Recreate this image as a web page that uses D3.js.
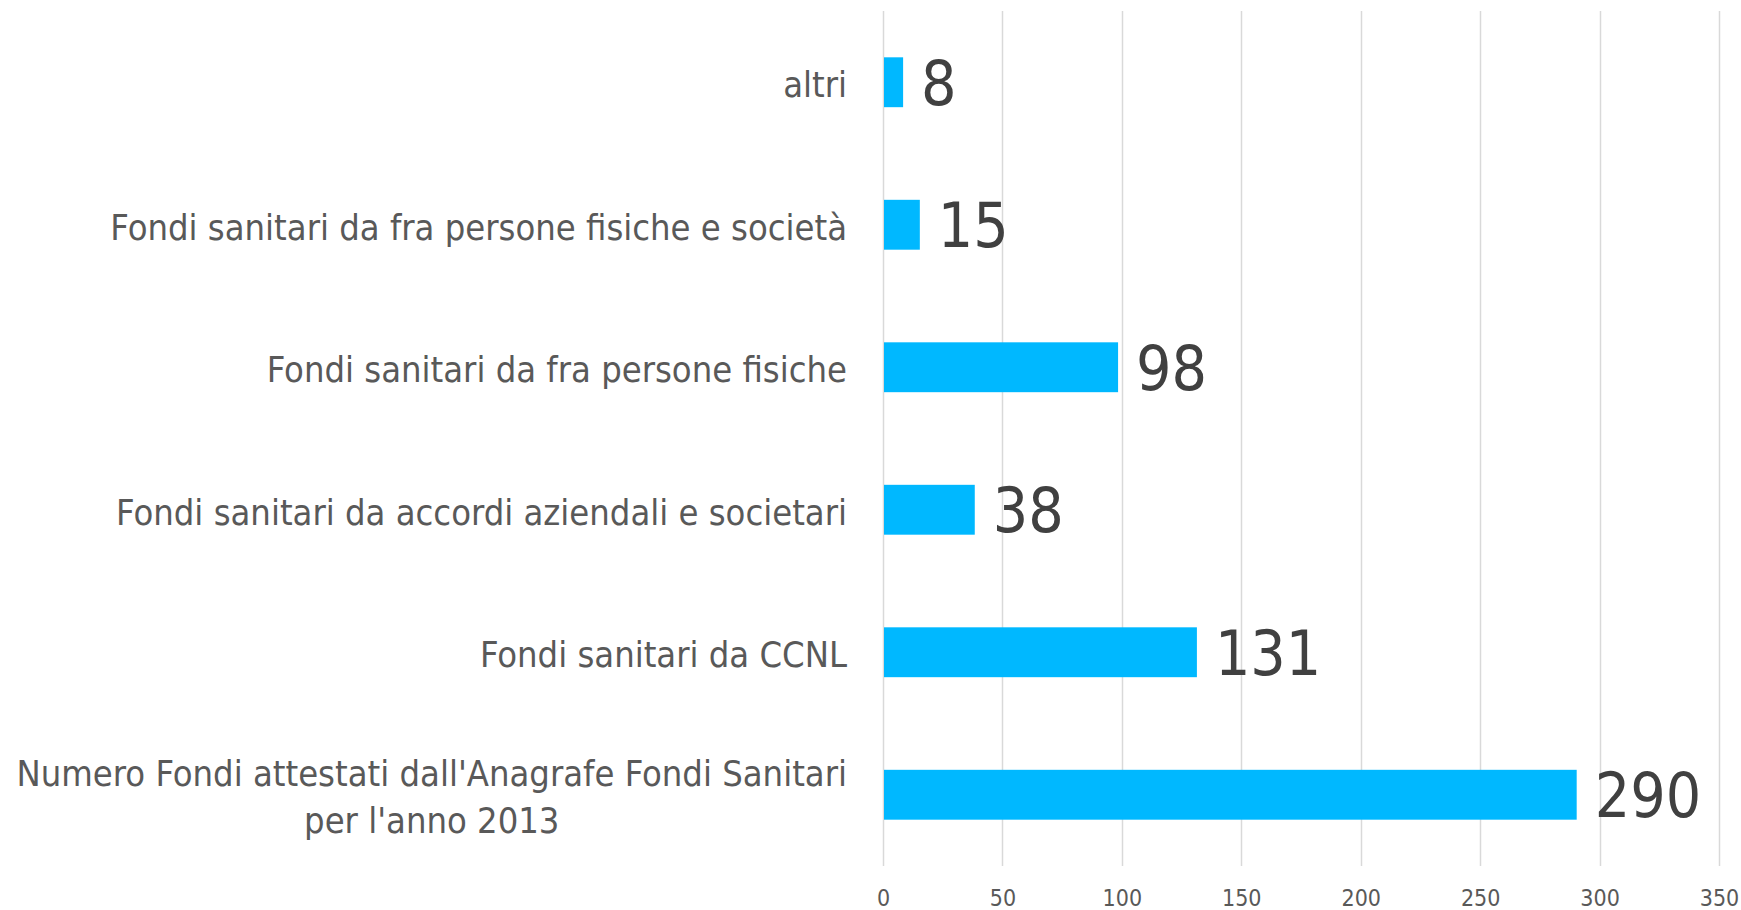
<!DOCTYPE html>
<html>
<head>
<meta charset="utf-8">
<script src="https://cdn.jsdelivr.net/npm/d3@7"></script>
<style>
  body { margin: 0; background: #fff; }
  svg { display: block; font-family: "DejaVu Sans Condensed", "DejaVu Sans", sans-serif; }
</style>
</head>
<body>
<svg width="1741" height="910"></svg>
<script>
var svg = d3.select("svg"),
	width = +svg.attr("width"),
	height = +svg.attr("height");

// chart data, top to bottom as in the picture
var categories = [
	"altri",
	"Fondi sanitari da fra persone fisiche e società",
	"Fondi sanitari da fra persone fisiche",
	"Fondi sanitari da accordi aziendali e societari",
	"Fondi sanitari da CCNL",
	"Numero Fondi attestati dall'Anagrafe Fondi Sanitari\nper l'anno 2013"
];
var values = [8, 15, 98, 38, 131, 290];
var tickValues = [0, 50, 100, 150, 200, 250, 300, 350];

var margin = { top: 11, left: 883, right: 22, bottom: 44 };

//scales
var x = d3.scaleLinear()
	.domain([0, 350])
	.range([margin.left, width - margin.right]);

var y = d3.scaleBand()
	.domain(categories)
	.range([margin.top, height - margin.bottom])
	.paddingInner(0.65)
	.paddingOuter(0.325);

//vertical gridlines
svg.append("g")
	.attr("class", "grid")
	.selectAll("line")
	.data(tickValues)
	.enter().append("line")
	.attr("x1", function (d) { return Math.round(x(d)) + 0.5; })
	.attr("x2", function (d) { return Math.round(x(d)) + 0.5; })
	.attr("y1", margin.top)
	.attr("y2", height - margin.bottom)
	.style("stroke", "#d9d9d9")
	.style("stroke-width", 1.5);

//x axis labels
var xAxis = svg.append("g")
	.attr("transform", "translate(0," + (height - margin.bottom) + ")")
	.call(d3.axisBottom(x).tickValues(tickValues).tickSize(0).tickPadding(24));
xAxis.select(".domain").remove();
xAxis.selectAll("text")
	.style("font-family", "\"DejaVu Sans Condensed\", \"DejaVu Sans\", sans-serif")
	.style("font-size", "23px")
	.style("fill", "#595959");

//bars
svg.append("g")
	.selectAll("rect")
	.data(values)
	.enter().append("rect")
	.attr("x", x(0) + 1)
	.attr("y", function (d, i) { return y(categories[i]); })
	.attr("width", function (d) { return x(d) - x(0); })
	.attr("height", y.bandwidth())
	.style("fill", "#00b8ff");

//value labels
svg.append("g")
	.selectAll("text")
	.data(values)
	.enter().append("text")
	.attr("x", function (d) { return x(d) + 19; })
	.attr("y", function (d, i) { return y(categories[i]) + y.bandwidth() / 2; })
	.attr("dy", "0.36em")
	.style("font-size", "62px")
	.style("fill", "#404040")
	.text(function (d) { return d; });

//category labels, multi-line ones are centred on their widest line
var labelRight = 847;
var lineHeight = 47;
categories.forEach(function (c, i) {
	var lines = c.split("\n");
	var cy = y(c) + y.bandwidth() / 2 + 2;
	var t = svg.append("text")
		.style("font-size", "36px")
		.style("fill", "#595959");
	var maxW = 0;
	lines.forEach(function (l, k) {
		var s = t.append("tspan")
			.attr("x", 0)
			.attr("y", cy + (k - (lines.length - 1) / 2) * lineHeight)
			.attr("dy", "0.36em")
			.text(l);
		maxW = Math.max(maxW, s.node().getComputedTextLength());
	});
	if (lines.length == 1) {
		t.attr("text-anchor", "end").selectAll("tspan").attr("x", labelRight);
	} else {
		t.attr("text-anchor", "middle").selectAll("tspan").attr("x", labelRight - maxW / 2);
	}
});
</script>
</body>
</html>
